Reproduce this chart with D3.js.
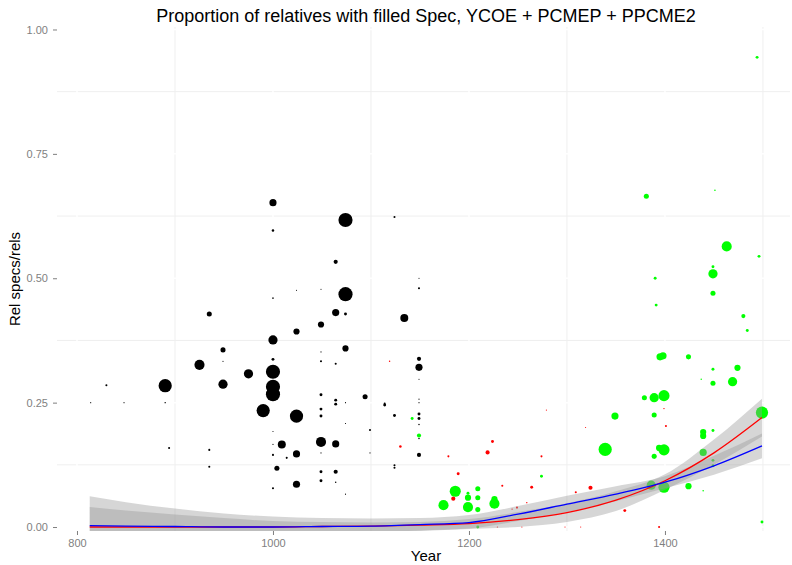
<!DOCTYPE html>
<html><head><meta charset="utf-8">
<script src="https://cdn.jsdelivr.net/npm/d3@7"></script>
<style>body{margin:0;background:#fff}svg{display:block;font-family:"Liberation Sans",Arial,sans-serif}</style>
</head><body><svg id="c" width="792" height="565"></svg>
<script>
// ---- data: [year, proportion, number of relatives] ----
const blackPoints = [[814,0.250,0.3],[830,0.285,1],[848,0.250,0.3],[890,0.284,41],[890,0.250,0.5],[894,0.159,1],[925,0.326,24],[935,0.428,6],[935,0.155,1],[935,0.121,1],[949,0.356,6],[949,0.333,0.3],[949,0.287,20],[975,0.308,20],[990,0.234,41],
[1000,0.652,12],[1000,0.596,1.5],[1000,0.460,0.6],[1000,0.376,20],[1000,0.337,2],[1000,0.312,47],[1000,0.282,47],[1000,0.267,47],[1000,0.192,0.3],[1000,0.166,0.3],[1000,0.145,1],[1000,0.078,1],
[1004,0.118,6],[1009,0.166,15],[1014,0.139,1],
[1024,0.476,0.3],[1024,0.393,9],[1024,0.223,41],[1024,0.147,12],[1024,0.086,12],
[1049,0.478,0.3],[1049,0.407,9],[1049,0.352,0.3],[1049,0.333,1],[1049,0.266,2],[1049,0.237,2],[1049,0.223,2],[1049,0.171,24],[1049,0.149,0.3],[1049,0.111,2],[1049,0.093,2],
[1064,0.533,4],[1064,0.431,12],[1064,0.328,1],[1064,0.255,2],[1064,0.247,2],[1064,0.167,12],[1064,0.111,4],[1064,0.090,0.5],
[1074,0.617,47],[1074,0.468,47],[1074,0.428,2],[1074,0.359,9],[1074,0.250,0.3],[1074,0.208,0.3],[1074,0.066,0.3],
[1094,0.262,6],[1099,0.195,1],[1099,0.149,0.3],[1114,0.245,2],[1114,0.248,1],
[1124,0.623,1],[1124,0.224,2],[1124,0.124,1],[1124,0.119,1],[1134,0.420,15],
[1149,0.500,0.3],[1149,0.480,1],[1149,0.338,4],[1149,0.321,12],[1149,0.297,0.3],[1149,0.257,0.3],[1149,0.250,0.3],[1149,0.227,2],[1149,0.218,2],[1149,0.206,0.5],[1149,0.178,0.5],[1149,0.145,4]];

const redPoints = [[1119,0.333,0.5],[1130,0.162,1.5],[1179,0.142,1],[1184,0.057,4],[1189,0.107,2],[1219,0.150,4],[1224,0.172,2],[1229,0.0,0.3],[1234,0.083,1],[1244,0.036,0.5],[1249,0.039,1],[1254,0.0,0.3],[1259,0.049,0.5],[1264,0.080,2],[1274,0.142,1],[1279,0.235,0.3],[1298,0.0,0.3],[1309,0.070,1],[1314,0.0,0.3],[1319,0.200,0.3],[1324,0.079,4],[1359,0.033,2],[1394,0.0,1],[1399,0.238,0.5],[1401,0.203,1]];

const greenPoints = [[1142,0.218,2],[1149,0.184,4],[1174,0.044,24],[1186,0.072,29],[1199,0.068,2],[1199,0.059,9],[1199,0.040,24],[1209,0.077,6],[1209,0.059,6],[1209,0.035,6],[1209,0.0,2],[1226,0.056,9],[1226,0.047,24],[1274,0.102,2],[1339,0.156,41],[1349,0.223,12],[1379,0.260,6],[1389,0.260,20],[1399,0.264,29],[1389,0.225,6],[1394,0.159,9],[1399,0.155,29],[1389,0.142,6],[1386,0.084,20],[1399,0.080,29],[1424,0.082,9],[1439,0.073,0.6],[1439,0.191,9],[1439,0.183,9],[1449,0.194,2],[1439,0.150,12],[1449,0.134,2],[1449,0.123,2],[1499,0.230,35],[1499,0.010,2],[1494,0.944,2],[1381,0.665,6],[1451,0.677,0.6],[1463,0.564,24],[1496,0.544,2],[1449,0.523,2],[1449,0.509,20],[1390,0.500,2],[1449,0.470,6],[1391,0.446,2],[1480,0.424,4],[1484,0.395,2],[1395,0.342,12],[1398,0.344,12],[1424,0.342,6],[1449,0.317,2],[1437,0.297,0.5],[1449,0.289,6],[1474,0.320,9],[1469,0.292,20]];

// smooth fits
const smoothYears = [813, 850, 900, 950, 1000, 1050, 1100, 1150, 1200, 1250, 1300, 1350, 1400, 1450, 1499];
const redFit  = [0.000, 0.000, 0.000, 0.000, 0.000, 0.001, 0.002, 0.004, 0.007, 0.015, 0.029, 0.054, 0.093, 0.149, 0.220];
const redLo   = [-0.040,-0.035,-0.030,-0.025,-0.020,-0.016,-0.012,-0.008,-0.004, 0.000, 0.010, 0.032, 0.075, 0.125, 0.182];
const redHi   = [0.040, 0.033, 0.025, 0.018, 0.012, 0.010, 0.009, 0.010, 0.016, 0.030, 0.048, 0.072, 0.106, 0.176, 0.258];
const blueFit = [0.003, 0.002, 0.001, 0.000, 0.000, 0.001, 0.002, 0.005, 0.009, 0.026, 0.046, 0.066, 0.090, 0.123, 0.163];
const blueLo  = [-0.055,-0.045,-0.035,-0.027,-0.020,-0.015,-0.011,-0.007,-0.003, 0.012, 0.030, 0.052, 0.078, 0.105, 0.138];
const blueHi  = [0.062, 0.050, 0.037, 0.027, 0.021, 0.018, 0.017, 0.018, 0.024, 0.042, 0.063, 0.082, 0.102, 0.143, 0.188];

const xTicks = [800, 1000, 1200, 1400];
const xMinor = [900, 1100, 1300, 1500];
const yTicks = [0, 0.25, 0.5, 0.75, 1.0];
const yMinor = [0.125, 0.375, 0.625, 0.875];

// ---- layout ----
const P = {left: 57, top: 27, right: 790, bottom: 531};
const svg = d3.select("#c");
const x = d3.scaleLinear().domain([779.6, 1527.6]).range([P.left, P.right]);
const y = d3.scaleLinear().domain([-0.008, 1.005]).range([P.bottom, P.top]);
const r = d3.scaleSqrt().domain([0, 50]).range([0, 7.3]);

svg.append("rect").attr("x",0).attr("y",0).attr("width",792).attr("height",565).attr("fill","#fff");
svg.append("defs").append("clipPath").attr("id","clip").append("rect")
  .attr("x",P.left).attr("y",P.top).attr("width",P.right-P.left).attr("height",P.bottom-P.top);

const grid = svg.append("g");
grid.selectAll(".hm").data(yMinor).join("line").attr("x1",P.left).attr("x2",P.right)
  .attr("y1",d=>y(d)).attr("y2",d=>y(d)).attr("stroke","#efefef").attr("stroke-width",1);
grid.selectAll(".vm").data(xMinor).join("line").attr("y1",P.top).attr("y2",P.bottom)
  .attr("x1",d=>x(d)).attr("x2",d=>x(d)).attr("stroke","#efefef").attr("stroke-width",1);
grid.selectAll(".hM").data(yTicks).join("line").attr("x1",P.left).attr("x2",P.right)
  .attr("y1",d=>y(d)).attr("y2",d=>y(d)).attr("stroke","#fff").attr("stroke-width",1.5);
grid.selectAll(".vM").data(xTicks).join("line").attr("y1",P.top).attr("y2",P.bottom)
  .attr("x1",d=>x(d)).attr("x2",d=>x(d)).attr("stroke","#fff").attr("stroke-width",1.5);

const plot = svg.append("g").attr("clip-path","url(#clip)");
function pts(data, col){
  plot.append("g").selectAll("circle").data(data).join("circle")
    .attr("cx",d=>x(d[0])).attr("cy",d=>y(d[1])).attr("r",d=>r(d[2])).attr("fill",col);
}
pts(blackPoints,"#000000");
pts(redPoints,"#ff0000");
pts(greenPoints,"#00ff00");

function ribbon(lo, hi){
  const a = d3.area().curve(d3.curveMonotoneX)
    .x((d,i)=>x(smoothYears[i])).y0((d,i)=>y(lo[i])).y1((d,i)=>y(hi[i]));
  plot.append("path").datum(smoothYears).attr("d",a).attr("fill","#999999").attr("fill-opacity",0.4);
}
ribbon(redLo, redHi);
ribbon(blueLo, blueHi);
function fitLine(vals, col){
  const l = d3.line().curve(d3.curveMonotoneX).x((d,i)=>x(smoothYears[i])).y((d,i)=>y(vals[i]));
  plot.append("path").datum(smoothYears).attr("d",l).attr("fill","none").attr("stroke",col).attr("stroke-width",1.3);
}
fitLine(redFit,"#ff0000");
fitLine(blueFit,"#0000ff");

// axes
const xa = svg.append("g").attr("transform",`translate(0,${P.bottom})`)
  .call(d3.axisBottom(x).tickValues(xTicks).tickSize(4).tickPadding(4).tickFormat(d3.format("d")));
const ya = svg.append("g").attr("transform",`translate(${P.left},0)`)
  .call(d3.axisLeft(y).tickValues(yTicks).tickSize(4).tickPadding(5).tickFormat(d3.format(".2f")));
[xa,ya].forEach(g=>{
  g.select(".domain").remove();
  g.selectAll("line").attr("stroke","#7f7f7f");
  g.selectAll("text").attr("fill","#7f7f7f").style("font-size","11px").style("font-family",'"Liberation Sans",Arial,sans-serif');
});

svg.append("text").attr("x",426).attr("y",22).attr("text-anchor","middle")
  .style("font-size","18px").attr("fill","#000").text("Proportion of relatives with filled Spec, YCOE + PCMEP + PPCME2");
svg.append("text").attr("x",426).attr("y",561).attr("text-anchor","middle")
  .style("font-size","15px").attr("fill","#000").text("Year");
svg.append("text").attr("transform","translate(20,279) rotate(-90)").attr("text-anchor","middle")
  .style("font-size","15px").attr("fill","#000").text("Rel specs/rels");
</script></body></html>
